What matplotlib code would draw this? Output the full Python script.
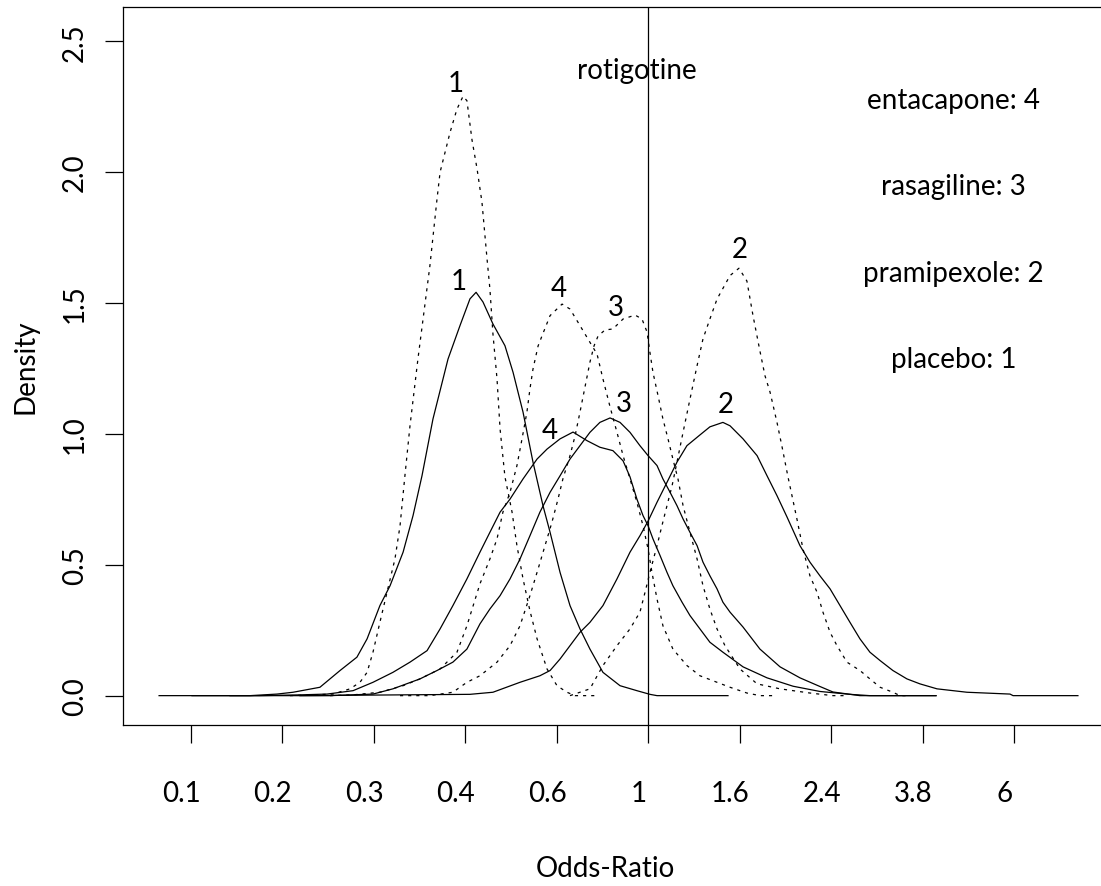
import numpy as np
import matplotlib
matplotlib.use("Agg")
import matplotlib.pyplot as plt
from matplotlib.transforms import ScaledTranslation

plt.rcParams["font.family"] = ["Lato", "DejaVu Sans"]

# x = log odds-ratio vs rotigotine, y = density
# solid curves = one analysis, dotted curves = the other

# 1: placebo
pbo_solid_x = [-2.406, -1.959, -1.826, -1.747, -1.615, -1.516, -1.433, -1.383, -1.320, -1.270,
               -1.206, -1.157, -1.113, -1.059, -0.985, -0.926, -0.877, -0.847, -0.813, -0.764,
               -0.705, -0.665, -0.616, -0.567, -0.518, -0.483, -0.434, -0.385, -0.336, -0.287,
               -0.223, -0.139, -0.056, 0.008, 0.043, 0.392]
pbo_solid_y = [0, 0, 0.006, 0.013, 0.032, 0.096, 0.147, 0.217, 0.344, 0.420,
               0.548, 0.688, 0.840, 1.057, 1.286, 1.414, 1.516, 1.541, 1.504, 1.420,
               1.337, 1.235, 1.083, 0.892, 0.726, 0.624, 0.471, 0.344, 0.255, 0.178,
               0.089, 0.038, 0.019, 0.005, 0, 0]
pbo_dot_x = [-1.762, -1.551, -1.467, -1.418, -1.383, -1.354, -1.320, -1.285, -1.246, -1.221,
             -1.197, -1.172, -1.133, -1.074, -1.039, -1.024, -0.975, -0.941, -0.911, -0.892,
             -0.867, -0.842, -0.818, -0.793, -0.779, -0.764, -0.744, -0.729, -0.705, -0.670,
             -0.646, -0.616, -0.582, -0.547, -0.498, -0.449, -0.400, -0.360, -0.252]
pbo_dot_y = [0, 0.006, 0.026, 0.051, 0.089, 0.166, 0.280, 0.395, 0.522, 0.649,
             0.840, 1.031, 1.286, 1.643, 1.898, 2.000, 2.152, 2.241, 2.290, 2.273,
             2.123, 2.012, 1.885, 1.668, 1.554, 1.382, 1.210, 1.019, 0.836, 0.701,
             0.573, 0.446, 0.324, 0.217, 0.102, 0.038, 0.013, 0, 0]

# 2: pramipexole
pra_solid_x = [-1.713, -0.877, -0.764, -0.631, -0.533, -0.483, -0.434, -0.385, -0.336, -0.287,
               -0.223, -0.154, -0.090, -0.041, -0.001, 0.043, 0.092, 0.141, 0.190, 0.254,
               0.303, 0.367, 0.402, 0.466, 0.535, 0.584, 0.633, 0.682, 0.746, 0.795,
               0.844, 0.894, 0.943, 0.992, 1.041, 1.090, 1.140, 1.203, 1.272, 1.336,
               1.420, 1.567, 1.779, 1.794, 2.113]
pra_solid_y = [0, 0.005, 0.013, 0.051, 0.076, 0.096, 0.140, 0.191, 0.242, 0.280,
               0.344, 0.446, 0.548, 0.611, 0.667, 0.739, 0.815, 0.892, 0.955, 0.996,
               1.027, 1.044, 1.031, 0.981, 0.917, 0.840, 0.764, 0.683, 0.573, 0.510,
               0.458, 0.408, 0.344, 0.280, 0.217, 0.166, 0.134, 0.096, 0.064, 0.045,
               0.026, 0.013, 0.006, 0, 0]
pra_dot_x = [-0.385, -0.287, -0.223, -0.154, -0.090, -0.041, -0.016, 0.008, 0.043, 0.067,
             0.092, 0.117, 0.141, 0.171, 0.205, 0.240, 0.269, 0.303, 0.338, 0.402,
             0.446, 0.485, 0.515, 0.549, 0.574, 0.599, 0.633, 0.658, 0.687, 0.731,
             0.761, 0.795, 0.830, 0.859, 0.894, 0.928, 0.977, 1.041, 1.090, 1.140,
             1.203, 1.238, 1.287]
pra_dot_y = [0, 0.026, 0.115, 0.191, 0.255, 0.319, 0.395, 0.471, 0.573, 0.649,
             0.726, 0.802, 0.892, 1.006, 1.133, 1.261, 1.363, 1.439, 1.515, 1.605,
             1.633, 1.584, 1.452, 1.317, 1.222, 1.159, 1.044, 0.950, 0.836, 0.675,
             0.560, 0.458, 0.395, 0.319, 0.242, 0.191, 0.128, 0.096, 0.064, 0.032,
             0.013, 0, 0]

# 3: rasagiline
ras_solid_x = [-2.057, -1.565, -1.354, -1.256, -1.123, -1.039, -0.961, -0.892, -0.828, -0.779,
               -0.729, -0.680, -0.631, -0.582, -0.533, -0.483, -0.434, -0.385, -0.336, -0.287,
               -0.238, -0.188, -0.139, -0.090, -0.041, -0.001, 0.043, 0.072, 0.107, 0.141,
               0.171, 0.205, 0.240, 0.269, 0.303, 0.338, 0.367, 0.402, 0.466, 0.549,
               0.648, 0.746, 0.844, 0.908, 1.041, 1.415]
ras_solid_y = [0, 0, 0.006, 0.026, 0.064, 0.096, 0.128, 0.178, 0.274, 0.331,
               0.382, 0.446, 0.522, 0.611, 0.701, 0.777, 0.840, 0.904, 0.955, 1.006,
               1.044, 1.061, 1.044, 1.006, 0.955, 0.917, 0.879, 0.828, 0.777, 0.726,
               0.675, 0.624, 0.573, 0.510, 0.458, 0.408, 0.357, 0.319, 0.262, 0.178,
               0.110, 0.068, 0.035, 0.014, 0, 0]
ras_dot_x = [-1.221, -1.074, -0.961, -0.892, -0.828, -0.744, -0.680, -0.631, -0.582, -0.542,
             -0.508, -0.474, -0.444, -0.420, -0.385, -0.360, -0.336, -0.287, -0.267, -0.247,
             -0.213, -0.174, -0.124, -0.065, -0.031, -0.006, 0.008, 0.023, 0.048, 0.072,
             0.097, 0.121, 0.146, 0.171, 0.205, 0.240, 0.269, 0.303, 0.338, 0.377,
             0.451, 0.535, 0.648, 0.795, 0.908, 0.967]
ras_dot_y = [0, 0, 0.013, 0.051, 0.076, 0.128, 0.191, 0.267, 0.382, 0.484,
             0.573, 0.662, 0.751, 0.828, 0.917, 0.993, 1.083, 1.274, 1.336, 1.374,
             1.397, 1.401, 1.439, 1.454, 1.439, 1.389, 1.312, 1.235, 1.146, 1.057,
             0.981, 0.904, 0.828, 0.726, 0.624, 0.522, 0.420, 0.331, 0.255, 0.191,
             0.102, 0.045, 0.026, 0.010, 0, 0]

# 4: entacapone
ent_solid_x = [-2.244, -1.910, -1.713, -1.580, -1.452, -1.354, -1.256, -1.172, -1.088, -1.024,
               -0.961, -0.892, -0.828, -0.779, -0.729, -0.680, -0.616, -0.547, -0.498, -0.434,
               -0.370, -0.301, -0.238, -0.174, -0.124, -0.090, -0.056, -0.026, -0.001, 0.023,
               0.058, 0.092, 0.121, 0.166, 0.205, 0.254, 0.303, 0.367, 0.466, 0.584,
               0.712, 0.844, 0.992, 1.090, 1.415]
ent_solid_y = [0, 0, 0.003, 0.006, 0.019, 0.051, 0.089, 0.128, 0.172, 0.255,
               0.344, 0.446, 0.548, 0.624, 0.701, 0.751, 0.828, 0.904, 0.942, 0.981,
               1.007, 0.974, 0.949, 0.936, 0.897, 0.836, 0.751, 0.688, 0.649, 0.599,
               0.535, 0.471, 0.420, 0.357, 0.306, 0.255, 0.204, 0.166, 0.110, 0.068,
               0.036, 0.016, 0.005, 0, 0]
ent_dot_x = [-1.565, -1.452, -1.320, -1.206, -1.123, -1.024, -0.941, -0.892, -0.828, -0.779,
             -0.744, -0.715, -0.680, -0.646, -0.621, -0.597, -0.582, -0.567, -0.542, -0.523,
             -0.483, -0.424, -0.385, -0.336, -0.287, -0.252, -0.223, -0.188, -0.154, -0.124,
             -0.090, -0.056, -0.026, -0.001, 0.018, 0.043, 0.072, 0.121, 0.190, 0.254,
             0.338, 0.402, 0.485, 0.549, 0.623]
ent_dot_y = [0, 0.003, 0.013, 0.038, 0.064, 0.102, 0.166, 0.267, 0.427, 0.522,
             0.599, 0.701, 0.777, 0.879, 0.981, 1.083, 1.172, 1.248, 1.336, 1.374,
             1.452, 1.496, 1.477, 1.414, 1.350, 1.305, 1.210, 1.103, 1.006, 0.917,
             0.828, 0.739, 0.649, 0.560, 0.471, 0.369, 0.267, 0.178, 0.115, 0.076,
             0.051, 0.032, 0.010, 0, 0]

# number labels over each curve (x, y of the label baseline)
curve_labels = ["1", "1", "2", "2", "3", "3", "4", "4"]
label_x = [-0.931, -0.946, 0.381, 0.448, -0.118, -0.160, -0.483, -0.439]
label_y = [1.554, 2.311, 1.083, 1.675, 1.089, 1.454, 0.983, 1.528]

treatments = ["entacapone: 4", "rasagiline: 3", "pramipexole: 2", "placebo: 1"]
treatment_y = [2.245, 1.917, 1.585, 1.255]

or_labels = ["0.1", "0.2", "0.3", "0.4", "0.6", "1", "1.6", "2.4", "3.8", "6"]
or_step = 0.45  # tick spacing on the log scale

curves = [
    (pbo_solid_x, pbo_solid_y, "-"), (pbo_dot_x, pbo_dot_y, ":"),
    (pra_solid_x, pra_solid_y, "-"), (pra_dot_x, pra_dot_y, ":"),
    (ras_solid_x, ras_solid_y, "-"), (ras_dot_x, ras_dot_y, ":"),
    (ent_solid_x, ent_solid_y, "-"), (ent_dot_x, ent_dot_y, ":"),
]

fig = plt.figure(figsize=(11.01, 8.87), dpi=100)
ax = fig.add_axes([0.11199, 0.18185, 0.89955, 0.80913])

for (x, y, ls), lab, lx, ly in zip(curves, curve_labels, label_x, label_y):
    if ls == "-":
        ax.plot(x, y, color="black", lw=0.9)
    else:
        ax.plot(x, y, color="black", lw=0.9, linestyle=(0, (2.5, 4)))
    ax.text(lx, ly, lab, fontsize=20, ha="center", va="baseline")

ax.axvline(0, color="black", lw=0.9)
ax.text(-0.057, 2.360, "rotigotine", fontsize=20, ha="center", va="baseline")
for name, ty in zip(treatments, treatment_y):
    ax.text(1.5, ty, name, fontsize=20, ha="center", va="baseline")

ax.set_xlim(-2.582, 2.289)
ax.set_ylim(-0.111, 2.631)

tick_pos = (np.arange(len(or_labels)) - 5) * or_step
ax.set_xticks(tick_pos)
ax.set_xticklabels(or_labels, fontsize=20)
ax.set_yticks([0, 0.5, 1.0, 1.5, 2.0, 2.5])
ax.set_yticklabels(["0.0", "0.5", "1.0", "1.5", "2.0", "2.5"], fontsize=20)
ax.tick_params(axis="both", direction="out", length=13, width=0.9, color="black")
ax.tick_params(axis="x", pad=27)
ax.tick_params(axis="y", pad=16)
plt.setp(ax.get_yticklabels(), rotation=90, rotation_mode="anchor",
         ha="center", va="baseline")
shift = ScaledTranslation(-9.6 / 100, 0, fig.dpi_scale_trans)
for lab in ax.get_xticklabels():
    lab.set_transform(lab.get_transform() + shift)

for sp in ax.spines.values():
    sp.set_linewidth(0.9)
    sp.set_color("black")

fig.text(605 / 1101, 1 - 876.7 / 887, "Odds-Ratio", fontsize=20, ha="center", va="baseline")
fig.text(33.3 / 1101, 1 - 367 / 887, "Density", fontsize=20, rotation=90,
         rotation_mode="anchor", ha="center", va="baseline")

fig.savefig("out.png", dpi=100)
